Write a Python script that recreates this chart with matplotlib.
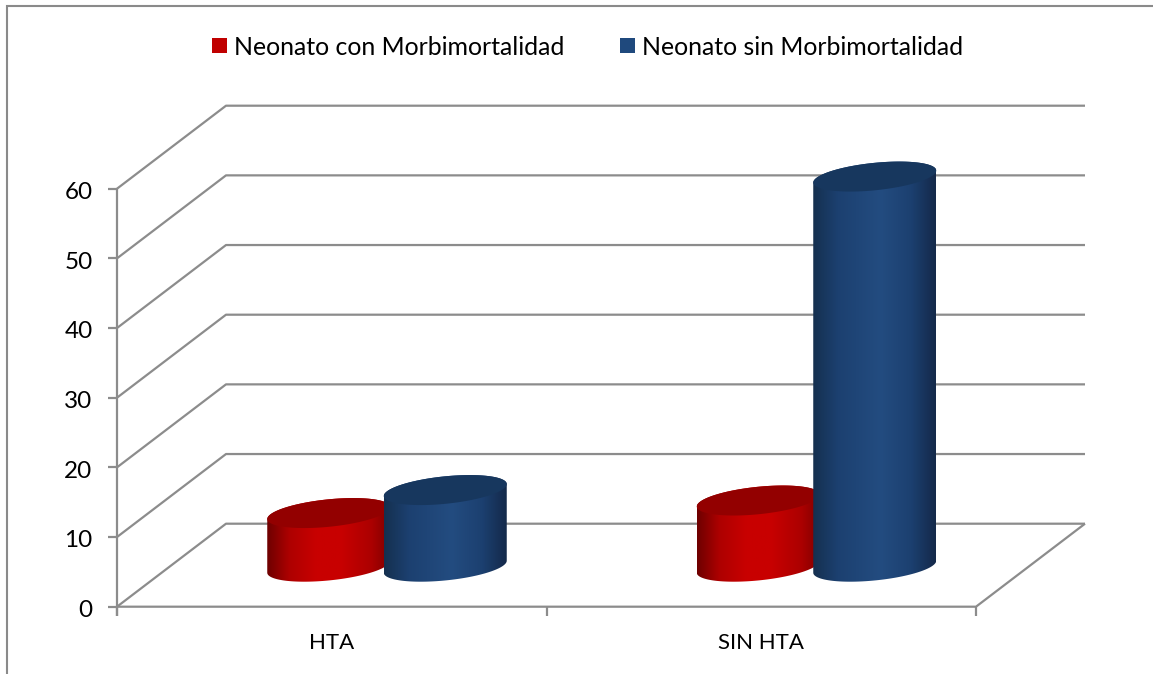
import numpy as np
import matplotlib
matplotlib.use("Agg")
import matplotlib.pyplot as plt
from matplotlib.colors import LinearSegmentedColormap
from matplotlib.patches import Polygon

# Chart data
categories = ["HTA", "SIN HTA"]
series_names = ["Neonato con Morbimortalidad", "Neonato sin Morbimortalidad"]
con_morbi = [7.7, 9.5]
sin_morbi = [11, 56]
y_ticks = [0, 10, 20, 30, 40, 50, 60]

W, H = 1153, 674
GRID = "#8c8c8c"
FONT = "Lato"

fig = plt.figure(figsize=(W / 100, H / 100), dpi=100, facecolor="white")

# Plot box of the front plane, in figure pixels
LEFT, RIGHT, BOTTOM, TOP = 117, 976, 606.7, 188.7
ax = fig.add_axes([LEFT / W, 1 - BOTTOM / H, (RIGHT - LEFT) / W, (BOTTOM - TOP) / H])
ax.set_xlim(0, len(categories))
ax.set_ylim(0, 60)
ax.axis("off")

px_x = len(categories) / (RIGHT - LEFT)   # data units per pixel
px_y = 60 / (BOTTOM - TOP)
depth_x = 109 * px_x
depth_y = 83 * px_y

line_kw = dict(color=GRID, lw=1.6, clip_on=False, solid_capstyle="butt", zorder=1)

# Side wall, back wall and floor lines
for v in y_ticks:
    ax.plot([0, depth_x, 2 + depth_x], [v, v + depth_y, v + depth_y], **line_kw)
ax.plot([0, 2, 2 + depth_x], [0, 0, depth_y], **line_kw)

# Value axis and its ticks
ax.plot([0, 0], [-9 * px_y, 60], **line_kw)
for v in y_ticks:
    ax.plot([-9 * px_x, 0], [v, v], **line_kw)
    ax.text(-24.5 * px_x, v - 0.55, str(v), ha="right", va="center",
            fontsize=17.5, family=FONT, color="black")

# Category axis ticks and labels
for i in range(len(categories) + 1):
    ax.plot([i, i], [-9 * px_y, 0], **line_kw)
for i, c in enumerate(categories):
    ax.text(i + 0.5, -36 * px_y, c, ha="center", va="center",
            fontsize=16, family=FONT, color="black")

red_cmap = LinearSegmentedColormap.from_list(
    "red", [(0, "#6e0000"), (0.18, "#ad0000"), (0.4, "#c80000"), (0.6, "#c80000"),
            (0.85, "#ac0000"), (1, "#800000")])
blue_cmap = LinearSegmentedColormap.from_list(
    "blue", [(0, "#15304f"), (0.2, "#1c4070"), (0.55, "#234c80"),
             (0.8, "#1c4070"), (1, "#14294a")])

HALF_W = 61.5 * px_x
HALF_H = 15 * px_y
TILT = np.radians(23.5)
BASE = 40 * px_y
RED_SHIFT = -3 * px_x
BLUE_SHIFT = 113.5 * px_x


def ellipse(cx, cy, t):
    return cx + HALF_W * np.cos(t), cy + HALF_H * np.sin(t + TILT)


def cylinder(cx, value, cmap, top_color, z):
    top = BASE + value
    # The side edges run between the extreme points of the two end ellipses
    xb, yb = ellipse(cx, BASE, np.linspace(np.pi, 2 * np.pi, 80))
    xt, yt = ellipse(cx, top, np.linspace(0, np.pi, 80))
    body = Polygon(np.column_stack([np.r_[xb, xt], np.r_[yb, yt]]), closed=True,
                   facecolor="none", edgecolor="none", transform=ax.transData)
    ax.add_patch(body)
    grad = ax.imshow(np.linspace(0, 1, 256)[None, :], cmap=cmap, aspect="auto",
                     extent=[cx - HALF_W, cx + HALF_W, BASE - 3, top + 3],
                     zorder=z, interpolation="bilinear")
    grad.set_clip_box(fig.bbox)
    grad.set_clip_path(body)
    xc, yc = ellipse(cx, top, np.linspace(0, 2 * np.pi, 160))
    ax.fill(xc, yc, color=top_color, lw=0, zorder=z + 0.1, clip_on=False)


for i in range(len(categories)):
    cylinder(i + 0.5 + RED_SHIFT, con_morbi[i], red_cmap, "#930000", 3)
    cylinder(i + 0.5 + BLUE_SHIFT, sin_morbi[i], blue_cmap, "#17375e", 4)

ax.set_xlim(0, len(categories))
ax.set_ylim(0, 60)

# Outer frame and legend, placed in figure pixels
over = fig.add_axes([0, 0, 1, 1], zorder=5)
over.set_xlim(0, W)
over.set_ylim(H, 0)
over.axis("off")
over.patch.set_alpha(0)
over.plot([6.5, 6.5, W], [H, 6, 6], color="#8a8a8a", lw=1.5, solid_joinstyle="miter")

for x, name, col in [(212, series_names[0], "#c00000"), (620, series_names[1], "#1f497d")]:
    over.fill([x, x + 15, x + 15, x], [38, 38, 53, 53], color=col, lw=0)
    over.text(x + 22, 47.5, name, ha="left", va="center", fontsize=17.95,
              family=FONT, color="black")

fig.savefig("out.png", dpi=100)
